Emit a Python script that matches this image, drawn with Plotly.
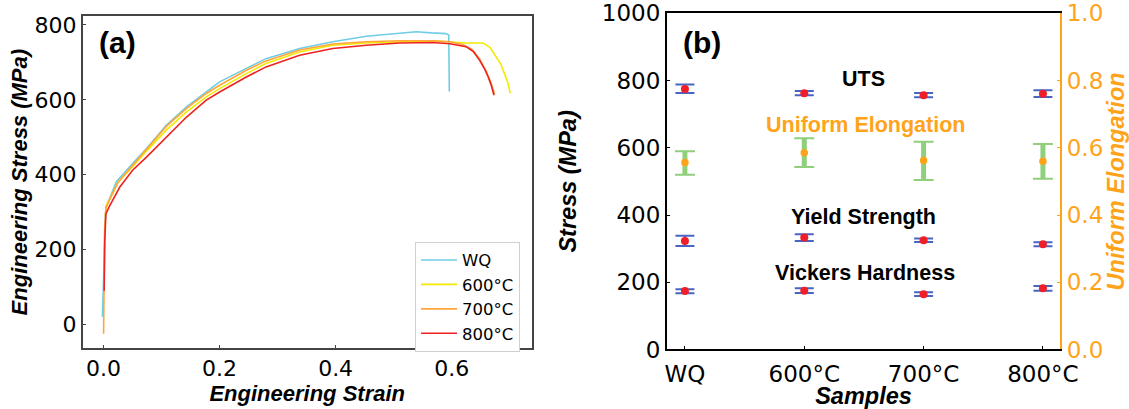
import plotly.graph_objects as go

# ---------------- Panel (a) data: engineering stress-strain curves ----------------
wq_strain = [-0.002, -0.001, 0.0, 0.002, 0.004, 0.01, 0.022, 0.05, 0.074, 0.108, 0.143, 0.177, 0.2,
             0.246, 0.28, 0.338, 0.395, 0.453, 0.51, 0.539, 0.565, 0.59, 0.595, 0.596]
wq_stress = [20, 60, 120, 250, 314, 335, 381, 430, 470, 532, 581, 621, 648,
             684, 710, 737, 755, 770, 777, 782, 779, 777, 773, 622]

s600_strain = [0.003, 0.005, 0.01, 0.025, 0.05, 0.074, 0.108, 0.143, 0.177, 0.2, 0.246, 0.28, 0.338,
               0.395, 0.453, 0.51, 0.568, 0.625, 0.654, 0.666, 0.677, 0.685, 0.691, 0.697, 0.701]
s600_stress = [290, 320, 332, 380, 421, 463, 519, 568, 608, 630, 670, 697, 728,
               746, 752, 755, 758, 752, 752, 740, 715, 695, 670, 645, 618]

s700_strain = [0.0, 0.0005, 0.002, 0.004, 0.01, 0.025, 0.05, 0.074, 0.108, 0.143, 0.177, 0.2, 0.246,
               0.28, 0.338, 0.395, 0.453, 0.51, 0.568, 0.597, 0.62, 0.635, 0.648, 0.66, 0.668, 0.674]
s700_stress = [-25, 100, 260, 310, 332, 380, 425, 466, 529, 577, 617, 639, 679,
               704, 733, 749, 755, 758, 758, 755, 747, 735, 710, 675, 645, 615]

s800_strain = [0.001, 0.002, 0.004, 0.01, 0.028, 0.05, 0.074, 0.108, 0.143, 0.177, 0.2, 0.246, 0.28,
               0.338, 0.395, 0.453, 0.51, 0.568, 0.597, 0.625, 0.638, 0.648, 0.657, 0.663, 0.668, 0.673]
s800_stress = [90, 220, 295, 315, 367, 412, 447, 501, 554, 599, 621, 661, 688,
               719, 737, 746, 752, 753, 750, 742, 728, 706, 682, 661, 640, 612]

curve_names = ["WQ", "600°C", "700°C", "800°C"]
curve_colors = ["#6fcde6", "#f2ea00", "#ffa53a", "#ee2222"]

# ---------------- Panel (b) data ----------------
samples = ["WQ", "600°C", "700°C", "800°C"]
uts = [775, 762, 756, 761]
uts_hi = [788, 769, 763, 771]
uts_lo = [763, 756, 750, 751]
ys = [323, 333, 325, 313]
ys_hi = [338, 343, 330, 319]
ys_lo = [308, 323, 320, 307]
hv = [174, 175, 164, 182]
hv_hi = [179, 182, 170, 189]
hv_lo = [167, 168, 159, 175]
ue = [0.556, 0.585, 0.562, 0.560]
ue_hi = [0.590, 0.628, 0.618, 0.611]
ue_lo = [0.520, 0.543, 0.504, 0.508]

stress_ticks = [0, 200, 400, 600, 800]
b_stress_ticks = [0, 200, 400, 600, 800, 1000]
strain_ticks = [0.0, 0.2, 0.4, 0.6]
ue_ticks = [0.0, 0.2, 0.4, 0.6, 0.8, 1.0]

TICKFONT = "DejaVu Sans"
TITLEFONT = "Liberation Sans"
ORANGE = "#ffa31a"
BLUE = "#4a64c4"
RED = "#f01e28"
GREEN = "#90cf7c"

fig = go.Figure()

curves = [(wq_strain, wq_stress), (s600_strain, s600_stress), (s700_strain, s700_stress), (s800_strain, s800_stress)]
for (xs, yv), name, col in zip(curves, curve_names, curve_colors):
    fig.add_trace(go.Scatter(x=xs, y=yv, mode="lines", name=name, legendgroup=name,
                             line=dict(color=col, width=1.6), xaxis="x", yaxis="y"))

xpos = list(range(len(samples)))


def add_blue(vals, hi, lo):
    fig.add_trace(go.Scatter(
        x=xpos, y=vals, mode="markers", showlegend=False, xaxis="x2", yaxis="y2",
        marker=dict(color=RED, size=8),
        error_y=dict(type="data", symmetric=False,
                     array=[h - v for h, v in zip(hi, vals)],
                     arrayminus=[v - l for v, l in zip(vals, lo)],
                     color=BLUE, thickness=2, width=9.5)))


add_blue(uts, uts_hi, uts_lo)
add_blue(ys, ys_hi, ys_lo)
add_blue(hv, hv_hi, hv_lo)

ue_plus = [h - v for h, v in zip(ue_hi, ue)]
ue_minus = [v - l for v, l in zip(ue, ue_lo)]
fig.add_trace(go.Scatter(
    x=xpos, y=ue, mode="markers", showlegend=False, xaxis="x2", yaxis="y3",
    marker=dict(color="rgba(0,0,0,0)", size=1),
    error_y=dict(type="data", symmetric=False, array=ue_plus, arrayminus=ue_minus,
                 color=GREEN, thickness=5, width=0)))
fig.add_trace(go.Scatter(
    x=xpos, y=ue, mode="markers", showlegend=False, xaxis="x2", yaxis="y3",
    marker=dict(color=ORANGE, size=7.5),
    error_y=dict(type="data", symmetric=False, array=ue_plus, arrayminus=ue_minus,
                 color=GREEN, thickness=2, width=10)))

axis_common = dict(ticks="inside", ticklen=4, tickwidth=1, showgrid=False, zeroline=False,
                   showline=True, linewidth=1.5, automargin=False)

fig.update_layout(
    width=1129, height=409,
    margin=dict(l=0, r=0, t=0, b=0, autoexpand=False),
    paper_bgcolor="white", plot_bgcolor="white",
    showlegend=True,
    legend=dict(x=0.3676, y=0.409, xanchor="left", yanchor="top",
                bgcolor="white", bordercolor="#d0d0d0", borderwidth=1,
                font=dict(family=TICKFONT, size=16.5, color="black"),
                tracegroupgap=0, traceorder="grouped", itemwidth=36),
    xaxis=dict(domain=[0.07325, 0.47095], range=[-0.036, 0.738], tickvals=strain_ticks,
               tickformat=".1f", mirror=True, linecolor="#444", tickcolor="#444",
               tickfont=dict(family=TICKFONT, size=22, color="black"),
               title=dict(text="<b><i>Engineering Strain</i></b>", standoff=0,
                          font=dict(family=TITLEFONT, size=22, color="black")),
               anchor="y", **axis_common),
    yaxis=dict(domain=[0.14841, 0.9609], range=[-64, 824], tickvals=stress_ticks,
               mirror=True, linecolor="#444", tickcolor="#444",
               tickfont=dict(family=TICKFONT, size=22, color="black"),
               title=dict(text="<b><i>Engineering Stress (MPa)</i></b>", standoff=1,
                          font=dict(family=TITLEFONT, size=22, color="black")),
               anchor="x", **axis_common),
    xaxis2=dict(domain=[0.5905, 0.9392], range=[-0.153, 3.146], tickvals=xpos, ticktext=samples,
                mirror=True, linecolor="black", tickcolor="black", ticklabelstandoff=3,
                tickfont=dict(family=TICKFONT, size=23, color="black"),
                title=dict(text="<b><i>Samples</i></b>", standoff=0,
                           font=dict(family=TITLEFONT, size=23.5, color="black")),
                anchor="y2", **axis_common),
    yaxis2=dict(domain=[0.1455, 0.9675], range=[0, 1000], tickvals=b_stress_ticks,
                linecolor="black", tickcolor="black",
                tickfont=dict(family=TICKFONT, size=23, color="black"),
                title=dict(text="<b><i>Stress (MPa)</i></b>", standoff=19,
                           font=dict(family=TITLEFONT, size=23.5, color="black")),
                anchor="x2", **axis_common),
    yaxis3=dict(range=[0, 1], tickvals=ue_ticks, tickformat=".1f", overlaying="y2", side="right",
                anchor="x2", linecolor=ORANGE, tickcolor=ORANGE,
                tickfont=dict(family=TICKFONT, size=23, color=ORANGE),
                title=dict(text="<b><i>Uniform Elongation</i></b>", standoff=22,
                           font=dict(family=TITLEFONT, size=23.5, color=ORANGE)),
                **axis_common),
)

ann = dict(showarrow=False, xanchor="center", yanchor="middle")
fig.add_annotation(text="<b>(a)</b>", xref="paper", yref="paper", x=117 / 1129, y=1 - 42 / 409,
                   font=dict(family=TITLEFONT, size=30, color="black"), **ann)
fig.add_annotation(text="<b>(b)</b>", xref="paper", yref="paper", x=702 / 1129, y=1 - 42 / 409,
                   font=dict(family=TITLEFONT, size=30, color="black"), **ann)
fig.add_annotation(text="<b>UTS</b>", xref="x2", yref="y2", x=1.5, y=805,
                   font=dict(family=TITLEFONT, size=21.5, color="black"), **ann)
fig.add_annotation(text="<b>Uniform Elongation</b>", xref="x2", yref="y2", x=1.515, y=668,
                   font=dict(family=TITLEFONT, size=21.5, color=ORANGE), **ann)
fig.add_annotation(text="<b>Yield Strength</b>", xref="x2", yref="y2", x=1.495, y=393,
                   font=dict(family=TITLEFONT, size=21.5, color="black"), **ann)
fig.add_annotation(text="<b>Vickers Hardness</b>", xref="x2", yref="y2", x=1.505, y=227,
                   font=dict(family=TITLEFONT, size=21.5, color="black"), **ann)

fig.write_html("out.html")
